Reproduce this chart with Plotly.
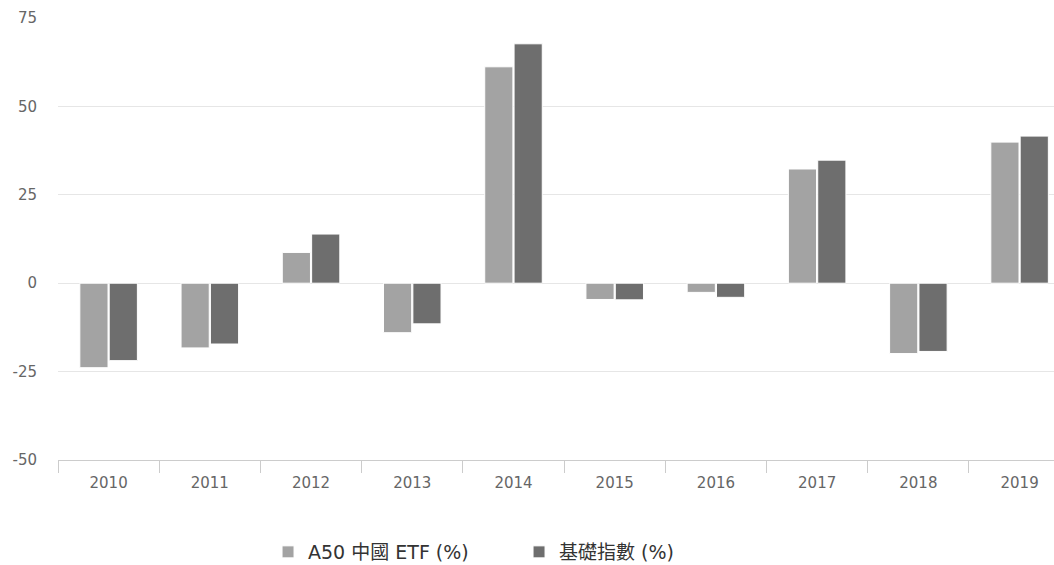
import plotly.graph_objects as go

years = ["2010", "2011", "2012", "2013", "2014", "2015", "2016", "2017", "2018", "2019"]
etf = [-23.9, -18.3, 8.7, -14.0, 61.2, -4.6, -2.6, 32.3, -19.9, 39.9]
index = [-21.9, -17.2, 13.9, -11.5, 67.7, -4.7, -4.0, 34.8, -19.3, 41.6]
y_ticks = [-50, -25, 0, 25, 50, 75]
y_tick_labels = ["-50", "-25", "0", "25", "50", "75"]

fig = go.Figure()
fig.add_trace(go.Bar(x=years, y=etf, name="A50 中國 ETF (%)",
                     marker=dict(color="#a3a3a3", line=dict(color="#ffffff", width=1))))
fig.add_trace(go.Bar(x=years, y=index, name="基礎指數 (%)",
                     marker=dict(color="#6e6e6e", line=dict(color="#ffffff", width=1))))

fig.update_layout(
    width=1054, height=565,
    margin=dict(l=58, r=0, t=18, b=105, autoexpand=False),
    paper_bgcolor="white", plot_bgcolor="white",
    barmode="group", bargap=0.42, bargroupgap=0.04,
    showlegend=True,
    legend=dict(orientation="h", xref="container", yref="container",
                x=0.2543, xanchor="left", y=0.023, yanchor="middle",
                font=dict(family="DejaVu Sans, Noto Sans CJK TC", size=19, color="#333333"),
                entrywidth=206, entrywidthmode="pixels"),
    font=dict(family="DejaVu Sans", size=15, color="#666666"),
)
fig.update_xaxes(
    type="category", range=[-0.5, 9.34], tickson="boundaries",
    ticks="outside", ticklen=12, tickcolor="#cccccc", ticklabelstandoff=9,
    showline=True, linecolor="#cccccc", linewidth=1, automargin=False,
    showgrid=False, tickfont=dict(family="DejaVu Sans", size=15, color="#666666"),
)
fig.update_yaxes(
    range=[-50, 75], tickvals=y_ticks, ticktext=y_tick_labels,
    showgrid=True, gridcolor="#e6e6e6",
    zeroline=True, zerolinecolor="#e6e6e6", zerolinewidth=1,
    ticks="", ticklabelstandoff=20, automargin=False,
    tickfont=dict(family="DejaVu Sans", size=15, color="#666666"),
)

fig.write_html("out.html", config={"displayModeBar": False},
               post_script="document.body.style.margin='0';")
